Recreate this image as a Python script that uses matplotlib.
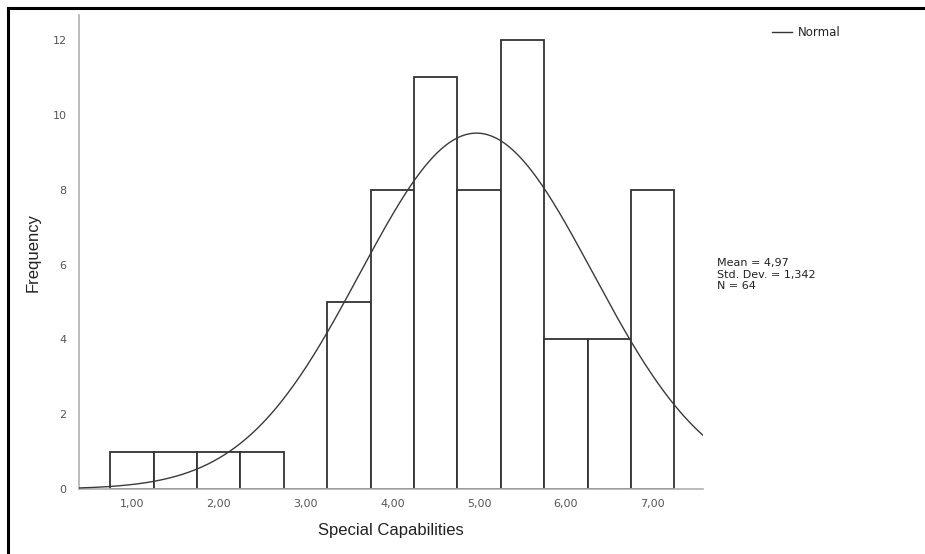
import numpy as np
import matplotlib
matplotlib.use("Agg")
import matplotlib.pyplot as plt
from matplotlib.lines import Line2D

# Histogram of scores (bin centres, width 0.5) with fitted normal curve
bin_centers = [1.0, 1.5, 2.0, 2.5, 3.0, 3.5, 4.0, 4.5, 5.0, 5.5, 6.0, 6.5, 7.0]
counts = [1, 1, 1, 1, 0, 5, 8, 11, 8, 12, 4, 4, 8]
bin_width = 0.5
mean = 4.97
std_dev = 1.342
n_cases = 64
x_ticks = [1, 2, 3, 4, 5, 6, 7]
x_tick_labels = ["1,00", "2,00", "3,00", "4,00", "5,00", "6,00", "7,00"]
y_ticks = [0, 2, 4, 6, 8, 10, 12]

plt.rcParams['font.family'] = ['Liberation Sans', 'DejaVu Sans']

fig = plt.figure(figsize=(9.25, 5.54), dpi=100)
ax = fig.add_axes([79 / 925, 1 - 489 / 554, 624 / 925, 474 / 554])

# bars
ax.bar(bin_centers, counts, width=bin_width, facecolor='white',
       edgecolor='#333333', linewidth=1.3, zorder=2)

# normal curve scaled to counts
x0, x1 = 0.39, 7.58
xs = np.linspace(x0, x1, 400)
pdf = np.exp(-0.5 * ((xs - mean) / std_dev) ** 2) / (std_dev * np.sqrt(2 * np.pi))
ax.plot(xs, pdf * n_cases * bin_width, color='#3a3a3a', linewidth=1.0, zorder=3,
        label='Normal')

ax.set_xlim(x0, x1)
ax.set_ylim(0, 12.67)
ax.set_xticks(x_ticks)
ax.set_xticklabels(x_tick_labels)
ax.set_yticks(y_ticks)
ax.tick_params(axis='both', length=0, labelsize=8, labelcolor='#555555')
ax.tick_params(axis='x', pad=7)
ax.tick_params(axis='y', pad=9)
for lbl in ax.get_xticklabels() + ax.get_yticklabels():
    lbl.set_family('DejaVu Sans')

for side in ['top', 'right']:
    ax.spines[side].set_visible(False)
for side in ['left', 'bottom']:
    ax.spines[side].set_color('#b0b0b0')
    ax.spines[side].set_linewidth(1.2)

ax.set_xlabel('Special Capabilities', fontsize=12, color='#222222', labelpad=10)
ax.set_ylabel('Frequency', fontsize=12, color='#222222')
ax.yaxis.set_label_coords(-0.062, 0.5)

# legend in the top right
fig.add_artist(Line2D([772 / 925, 792 / 925], [1 - 32 / 554, 1 - 32 / 554],
                      color='#333333', linewidth=1.0))
fig.text(798 / 925, 1 - 32 / 554, 'Normal', fontsize=8.5, color='#222222',
         va='center', ha='left', family='DejaVu Sans')

# summary statistics (comma as decimal separator)
mean_txt = f"{mean:.2f}".replace('.', ',')
sd_txt = f"{std_dev:.3f}".replace('.', ',')
fig.text(717 / 925, 1 - 258 / 554,
         f"Mean = {mean_txt}\nStd. Dev. = {sd_txt}\nN = {n_cases}",
         fontsize=8, color='#222222', va='top', ha='left', linespacing=1.2,
         family='DejaVu Sans')

# outer frame (top and left edges)
fig.add_artist(Line2D([8 / 925, 1], [1 - 8 / 554, 1 - 8 / 554], color='black',
                      linewidth=2.2))
fig.add_artist(Line2D([8 / 925, 8 / 925], [0, 1 - 8 / 554], color='black',
                      linewidth=2.2))

fig.savefig('out.png', dpi=100)
